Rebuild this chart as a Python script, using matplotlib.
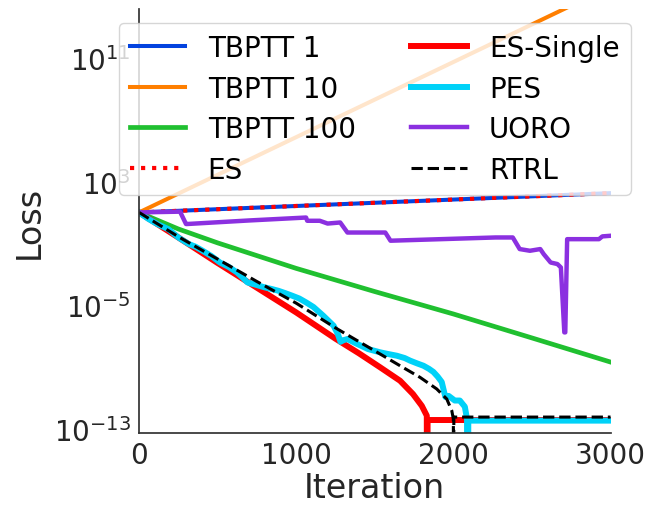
import numpy as np
import matplotlib
matplotlib.use("Agg")
import matplotlib.pyplot as plt
from matplotlib.transforms import ScaledTranslation

# ---------------- data (iterations, log10(loss)) ----------------
tbptt1_it = [0, 3000]
tbptt1_log = [1.27, 2.52]

tbptt10_it = [0, 1000, 2000, 3000]
tbptt10_log = [1.27, 6.14, 11.0, 15.87]

tbptt100_it = [0, 250, 500, 1000, 1500, 2000, 2500, 3000]
tbptt100_log = [1.27, 0.2, -0.7, -2.35, -3.85, -5.3, -6.85, -8.41]

es_it = [0, 3000]
es_log = [1.27, 2.52]

essingle_it = [0, 250, 500, 750, 1000, 1250, 1400, 1534, 1661, 1743, 1799, 1831, 1833, 1836, 3000]
essingle_log = [1.27, -0.35, -2.0, -3.6, -5.2, -6.9, -7.85, -8.75, -9.62, -10.48, -11.24, -11.88, -30, -12.16, -12.16]

pes_it = [0, 60, 120, 186, 250, 318, 360, 405, 460, 515, 570, 625, 660, 690, 740, 800, 850, 887,
          930, 975, 1020, 1063, 1110, 1172, 1238, 1265, 1282, 1300, 1326, 1380, 1457, 1534, 1590,
          1640, 1690, 1725, 1770, 1810, 1845, 1873, 1900, 1926, 1949, 1970, 2009, 2041, 2073, 2087,
          2090, 2095, 3000]
pes_log = [1.27, 0.85, 0.5, 0.19, -0.35, -0.78, -0.95, -1.21, -1.55, -1.97, -2.25, -2.62, -2.95,
           -3.26, -3.4, -3.58, -3.7, -3.8, -3.95, -4.12, -4.3, -4.55, -4.85, -5.41, -6.06, -6.6,
           -7.1, -7.0, -6.92, -7.2, -7.57, -7.78, -7.9, -8.0, -8.15, -8.32, -8.5, -8.65, -8.85,
           -9.05, -9.35, -9.7, -10.67, -10.6, -10.9, -10.9, -11.3, -12.1, -30, -12.2, -12.2]

uoro_it = [0, 261, 299, 305, 700, 1063, 1070, 1150, 1200, 1280, 1326, 1567, 1600, 2268, 2378, 2422,
           2487, 2553, 2575, 2619, 2662, 2684, 2706, 2712, 2724, 2926, 2948, 3000]
uoro_log = [1.27, 1.32, 0.52, 0.52, 0.75, 0.94, 0.73, 0.73, 0.55, 0.62, -0.03, -0.03, -0.56, -0.35,
            -0.35, -1.1, -1.21, -1.1, -1.43, -1.97, -2.07, -2.29, -6.49, -6.49, -0.46, -0.46,
            -0.28, -0.24]

rtrl_it = [0, 250, 500, 750, 1000, 1250, 1534, 1661, 1788, 1894, 1958, 1990, 2000, 2001, 2003, 3000]
rtrl_log = [1.27, -0.3, -1.75, -3.2, -4.6, -6.2, -7.89, -8.65, -9.4, -10.15, -10.8, -11.56, -12.1, -30, -11.97, -11.97]

y_tick_exps = [-13, -5, 3, 11]
x_ticks = [0, 1000, 2000, 3000]

# ---------------- figure ----------------
fig = plt.figure(figsize=(6.46, 5.06), dpi=100)
ax = fig.add_axes([0.2152, 0.1423, 0.7299, 0.8379])

def L(v):
    return 10.0 ** np.asarray(v, dtype=float)

ax.plot(tbptt1_it, L(tbptt1_log), color='#0343df', lw=2.9, label='TBPTT 1')
ax.plot(tbptt10_it, L(tbptt10_log), color='#ff7f00', lw=2.9, label='TBPTT 10')
ax.plot(tbptt100_it, L(tbptt100_log), color='#20c030', lw=3.4, label='TBPTT 100')
ax.plot(es_it, L(es_log), color='#ff0000', lw=3.0, ls=':', label='ES')
ax.plot(essingle_it, L(essingle_log), color='#ff0000', lw=4.3, label='ES-Single')
ax.plot(pes_it, L(pes_log), color='#00d2f8', lw=4.3, label='PES')
ax.plot(uoro_it, L(uoro_log), color='#8b30e0', lw=3.2, label='UORO')
ax.plot(rtrl_it, L(rtrl_log), color='black', lw=2.2, ls='--', label='RTRL')

ax.set_yscale('log')
ax.set_xlim(0, 3000)
ax.set_ylim(1e-13, 10 ** 14.43)
ax.set_yticks([10.0 ** e for e in y_tick_exps])
ax.set_yticklabels([r'$10^{%d}$' % e for e in y_tick_exps])
ax.minorticks_off()
ax.set_xticks(x_ticks)
ax.set_xticklabels([str(t) for t in x_ticks])

txt = '#262626'
ax.tick_params(axis='both', length=0, labelsize=20, colors=txt, pad=6)
for s in ['top', 'right']:
    ax.spines[s].set_visible(False)
for s in ['left', 'bottom']:
    ax.spines[s].set_color('#333333')
    ax.spines[s].set_linewidth(1.25)

shift = ScaledTranslation(0, 4 / 100, fig.dpi_scale_trans)
for lab in ax.get_yticklabels():
    lab.set_transform(lab.get_transform() + shift)

ax.set_xlabel('Iteration', fontsize=24, color=txt, labelpad=1)
ax.set_ylabel('Loss', fontsize=24, color=txt, labelpad=6)

ax.legend(loc='upper center', ncol=2, fontsize=20, labelspacing=0.45, handlelength=2.0,
          columnspacing=2.0, framealpha=0.8)

fig.savefig('out.png', dpi=100)
